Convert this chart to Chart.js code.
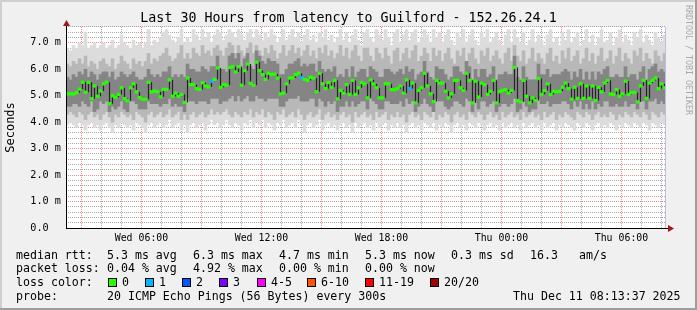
<!DOCTYPE html>
<html>
<head>
<meta charset="utf-8">
<script src="https://cdn.jsdelivr.net/npm/chart.js@4.4.1/dist/chart.umd.min.js"></script>
<style>
html, body { margin: 0; padding: 0; background: #f0f0f0; }
#wrap { position: relative; width: 697px; height: 310px; overflow: hidden; font-family: "DejaVu Sans Mono", monospace; color: #000; }
#chart { position: absolute; left: 0; top: 0; }
.t { position: absolute; font-size: 11.6px; line-height: 14px; white-space: pre; }
.box { position: absolute; top: 278px; width: 7px; height: 7px; border: 1px solid #000; }
#mark { position: absolute; left: 684px; top: 5px; writing-mode: vertical-rl; font-size: 8.3px; color: #a8a8a8; white-space: pre; }
</style>
</head>
<body>
<div id="wrap">
  <canvas id="chart" width="697" height="310"></canvas>
  <div id="mark">RRDTOOL / TOBI OETIKER</div>
  <div id="legend"></div>
</div>
<script>
// 30 hours ending Thu Dec 11 08:13:37 2025, one column = 9 minutes
const hoursShown = 30;
const firstHourAt = 0.773; // Wed 03:00, hours after the left edge
const xTickHours = [3, 9, 15, 21, 27]; // hours after Wed 03:00
const xTickLabels = ['Wed 06:00', 'Wed 12:00', 'Wed 18:00', 'Thu 00:00', 'Thu 06:00'];
const yTickValues = [0, 1, 2, 3, 4, 5, 6, 7];
const yTickLabels = ['0.0  ', '1.0 m', '2.0 m', '3.0 m', '4.0 m', '5.0 m', '6.0 m', '7.0 m'];

// median rtt in ms
const median = [
  5.07, 5.07, 5.07, 5.12, 5.25, 5.51, 5.13, 5.51, 4.89, 5.37,
  4.98, 5.18, 5.45, 5.51, 4.70, 5.00, 4.94, 5.05, 5.30, 4.89,
  4.81, 5.30, 5.45, 5.15, 4.93, 4.87, 4.87, 5.51, 5.15, 5.18,
  5.15, 4.96, 5.24, 5.24, 5.60, 4.98, 5.10, 4.98, 5.05, 4.75,
  5.67, 5.42, 5.42, 5.27, 5.24, 5.49, 5.37, 5.33, 5.55, 5.62,
  6.05, 5.32, 5.42, 5.40, 6.07, 6.10, 5.90, 6.10, 5.40, 5.95,
  6.20, 5.47, 5.40, 6.27, 5.95, 5.80, 5.62, 5.85, 5.80, 5.82,
  5.67, 5.07, 5.10, 5.45, 5.67, 5.67, 5.80, 5.85, 5.68, 5.62,
  5.58, 5.70, 5.67, 5.15, 5.85, 5.45, 5.27, 5.50, 5.32, 5.58,
  4.88, 5.20, 5.10, 5.42, 5.05, 5.58, 5.05, 5.30, 5.50, 5.45,
  4.92, 5.60, 5.45, 5.30, 4.92, 4.92, 5.45, 5.45, 5.23, 5.23,
  5.27, 5.37, 5.10, 5.60, 5.27, 5.48, 4.73, 5.20, 5.30, 5.85,
  5.37, 5.07, 4.78, 5.58, 5.48, 5.48, 5.17, 4.92, 5.07, 5.58,
  5.58, 5.30, 5.20, 5.85, 5.58, 4.73, 5.55, 4.95, 5.48, 5.42,
  5.05, 5.17, 5.58, 4.73, 5.15, 5.20, 5.23, 5.10, 5.20, 6.07,
  4.82, 4.77, 5.58, 4.98, 4.73, 4.92, 4.82, 5.65, 5.05, 5.20,
  5.45, 5.05, 5.17, 5.15, 5.17, 5.32, 5.48, 5.27, 4.87, 5.32,
  4.90, 5.45, 4.90, 5.37, 4.90, 5.37, 4.82, 5.32, 5.15, 5.48,
  5.58, 5.07, 5.05, 5.23, 4.98, 5.07, 5.55, 5.05, 5.12, 5.12,
  4.77, 5.37, 5.58, 4.90, 5.48, 5.58, 5.67, 5.27, 5.45, 5.30
];
// columns where one of 20 pings was lost
const lossBins = [48, 78, 114];

// smoke: spread of the 20 pings, outer / middle / inner
const smokeOuterHi = [
  6.8, 6.7, 6.9, 6.8, 7.0, 6.9, 7.4, 6.8, 6.9, 7.0,
  6.8, 6.9, 7.0, 6.8, 6.9, 7.1, 6.8, 6.9, 7.3, 7.0,
  6.9, 6.8, 7.1, 6.9, 7.0, 6.8, 7.0, 7.5, 6.9, 7.1,
  7.0, 7.2, 7.4, 7.5, 7.3, 7.1, 7.0, 7.2, 7.5, 7.0,
  7.2, 7.0, 7.5, 7.3, 7.1, 7.5, 7.2, 7.4, 7.0, 7.3,
  7.5, 7.4, 7.1, 7.3, 7.5, 7.4, 7.2, 7.5, 7.3, 7.1,
  7.4, 7.5, 7.2, 7.5, 7.3, 7.1, 7.4, 7.2, 7.5, 7.3,
  7.0, 7.2, 7.5, 7.1, 7.3, 7.5, 7.2, 7.4, 7.0, 7.3,
  7.5, 7.1, 7.3, 7.0, 7.4, 7.2, 7.5, 7.1, 7.3, 7.0,
  7.2, 7.5, 7.1, 7.4, 7.0, 7.3, 7.5, 7.1, 6.9, 7.4,
  7.5, 7.2, 7.0, 7.5, 7.3, 7.1, 7.5, 7.2, 6.9, 7.4,
  7.5, 7.0, 7.3, 7.5, 7.1, 7.4, 7.5, 7.0, 7.2, 7.5,
  7.3, 7.0, 7.5, 7.2, 7.4, 7.0, 7.3, 7.5, 7.1, 6.9,
  7.4, 7.2, 7.5, 7.0, 7.3, 7.5, 7.1, 6.9, 7.4, 7.2,
  7.5, 7.0, 7.2, 7.4, 7.1, 6.9, 7.3, 7.5, 7.0, 7.5,
  7.2, 7.0, 7.4, 6.9, 7.1, 7.5, 7.0, 7.3, 7.1, 6.9,
  7.3, 7.5, 7.0, 7.2, 6.9, 7.4, 7.1, 7.5, 7.0, 7.2,
  7.4, 6.9, 7.1, 7.5, 7.0, 7.3, 6.9, 7.2, 7.5, 7.0,
  7.1, 7.4, 6.9, 7.2, 7.5, 7.0, 7.3, 7.1, 6.9, 7.4,
  7.2, 7.5, 7.0, 7.3, 7.1, 6.9, 7.4, 7.2, 7.0, 7.3
];
const smokeOuterLo = [
  3.9, 4.0, 3.9, 3.8, 4.0, 3.9, 3.7, 3.9, 4.0, 3.8,
  3.9, 3.7, 3.9, 4.0, 3.8, 3.6, 3.9, 3.8, 4.0, 3.9,
  3.8, 3.9, 3.7, 4.0, 3.9, 3.8, 3.6, 3.9, 4.0, 3.8,
  3.9, 4.0, 3.8, 3.9, 4.1, 3.8, 3.9, 4.0, 3.7, 3.9,
  3.6, 3.9, 4.0, 3.8, 3.9, 4.0, 3.7, 3.9, 4.1, 3.9,
  4.0, 3.8, 3.9, 4.1, 3.9, 3.8, 4.0, 3.9, 3.7, 4.0,
  3.9, 4.1, 3.8, 4.0, 3.9, 4.1, 3.8, 4.0, 3.9, 3.7,
  4.0, 3.9, 4.1, 3.8, 3.9, 4.0, 3.8, 4.1, 3.9, 3.6,
  3.9, 4.0, 3.8, 3.9, 4.1, 3.7, 3.9, 4.0, 3.8, 3.9,
  3.7, 3.9, 4.0, 3.8, 3.9, 3.6, 4.0, 3.8, 3.9, 4.0,
  3.8, 3.9, 3.7, 4.0, 3.8, 3.9, 4.0, 3.7, 3.9, 3.8,
  4.0, 3.8, 3.9, 3.6, 3.9, 4.0, 3.8, 3.9, 3.7, 4.0,
  3.9, 3.8, 4.0, 3.7, 3.9, 3.8, 4.0, 3.9, 3.6, 3.9,
  4.0, 3.8, 3.9, 3.7, 4.0, 3.9, 3.8, 4.0, 3.9, 3.7,
  3.9, 4.0, 3.8, 3.9, 3.7, 4.0, 3.8, 3.9, 4.0, 3.8,
  3.9, 3.7, 4.0, 3.8, 3.9, 4.0, 3.8, 3.9, 3.7, 4.0,
  3.8, 3.9, 4.0, 3.7, 3.9, 3.8, 4.0, 3.9, 3.8, 3.7,
  4.0, 3.9, 3.8, 4.0, 3.9, 3.7, 3.9, 4.0, 3.8, 3.9,
  3.8, 4.0, 3.9, 3.7, 3.9, 3.8, 4.0, 3.9, 3.8, 4.0,
  3.9, 3.8, 4.0, 3.9, 3.7, 4.0, 3.9, 3.8, 4.0, 3.9
];
const smokeMidHi = [
  6.2, 6.1, 6.3, 6.2, 6.4, 6.2, 6.5, 6.1, 6.3, 6.2,
  6.0, 6.3, 6.4, 6.2, 6.1, 6.4, 6.0, 6.2, 6.5, 6.3,
  6.2, 6.0, 6.4, 6.2, 6.3, 6.1, 6.3, 6.6, 6.2, 6.4,
  6.3, 6.5, 6.6, 6.8, 6.5, 6.3, 6.4, 6.6, 6.9, 6.4,
  6.6, 6.4, 6.8, 6.6, 6.5, 6.9, 6.6, 6.7, 6.5, 6.8,
  6.9, 6.7, 6.5, 6.8, 7.0, 6.9, 6.6, 6.9, 6.7, 6.5,
  6.8, 7.0, 6.6, 6.9, 6.7, 6.5, 6.8, 6.6, 6.9, 6.7,
  6.4, 6.6, 6.9, 6.5, 6.7, 6.9, 6.6, 6.8, 6.5, 6.7,
  6.9, 6.5, 6.7, 6.4, 6.8, 6.6, 6.9, 6.5, 6.7, 6.4,
  6.6, 6.9, 6.5, 6.8, 6.4, 6.7, 6.9, 6.5, 6.3, 6.8,
  6.8, 6.5, 6.3, 6.8, 6.6, 6.4, 6.8, 6.5, 6.2, 6.7,
  6.8, 6.3, 6.6, 6.8, 6.4, 6.7, 6.9, 6.3, 6.5, 6.8,
  6.6, 6.3, 6.8, 6.5, 6.7, 6.3, 6.6, 6.8, 6.4, 6.2,
  6.7, 6.5, 6.8, 6.3, 6.6, 6.8, 6.4, 6.2, 6.7, 6.5,
  6.8, 6.3, 6.5, 6.7, 6.4, 6.2, 6.6, 6.8, 6.3, 6.9,
  6.5, 6.3, 6.7, 6.2, 6.4, 6.8, 6.3, 6.6, 6.4, 6.2,
  6.6, 6.8, 6.3, 6.5, 6.2, 6.7, 6.4, 6.8, 6.3, 6.5,
  6.7, 6.2, 6.4, 6.8, 6.3, 6.6, 6.2, 6.5, 6.8, 6.3,
  6.4, 6.7, 6.2, 6.5, 6.8, 6.3, 6.6, 6.4, 6.2, 6.7,
  6.5, 6.8, 6.3, 6.6, 6.4, 6.2, 6.7, 6.5, 6.3, 6.6
];
const smokeMidLo = [
  4.3, 4.4, 4.3, 4.2, 4.4, 4.3, 4.1, 4.3, 4.4, 4.2,
  4.3, 4.1, 4.3, 4.4, 4.2, 4.0, 4.3, 4.2, 4.4, 4.3,
  4.2, 4.3, 4.1, 4.4, 4.3, 4.2, 4.0, 4.3, 4.4, 4.2,
  4.3, 4.4, 4.2, 4.3, 4.5, 4.2, 4.3, 4.4, 4.1, 4.3,
  4.1, 4.3, 4.4, 4.2, 4.3, 4.4, 4.2, 4.3, 4.5, 4.3,
  4.4, 4.3, 4.4, 4.5, 4.3, 4.2, 4.4, 4.3, 4.2, 4.4,
  4.3, 4.5, 4.2, 4.4, 4.3, 4.5, 4.2, 4.4, 4.3, 4.1,
  4.4, 4.3, 4.5, 4.2, 4.3, 4.4, 4.2, 4.5, 4.3, 4.1,
  4.3, 4.4, 4.2, 4.3, 4.5, 4.1, 4.3, 4.4, 4.2, 4.3,
  4.1, 4.3, 4.4, 4.2, 4.3, 4.0, 4.4, 4.2, 4.3, 4.4,
  4.2, 4.3, 4.1, 4.4, 4.2, 4.3, 4.4, 4.1, 4.3, 4.2,
  4.4, 4.2, 4.3, 4.0, 4.3, 4.4, 4.2, 4.3, 4.1, 4.4,
  4.3, 4.2, 4.4, 4.1, 4.3, 4.2, 4.4, 4.3, 4.0, 4.3,
  4.4, 4.2, 4.3, 4.1, 4.4, 4.3, 4.2, 4.4, 4.3, 4.1,
  4.3, 4.4, 4.2, 4.3, 4.1, 4.4, 4.2, 4.3, 4.4, 4.2,
  4.3, 4.1, 4.4, 4.2, 4.3, 4.4, 4.2, 4.3, 4.1, 4.4,
  4.2, 4.3, 4.4, 4.1, 4.3, 4.2, 4.4, 4.3, 4.2, 4.1,
  4.4, 4.3, 4.2, 4.4, 4.3, 4.1, 4.3, 4.4, 4.2, 4.3,
  4.2, 4.4, 4.3, 4.1, 4.3, 4.2, 4.4, 4.3, 4.2, 4.4,
  4.3, 4.2, 4.4, 4.3, 4.1, 4.4, 4.3, 4.2, 4.4, 4.3
];
const smokeInnerHi = [
  5.7, 5.6, 5.8, 5.7, 5.9, 5.8, 6.0, 5.7, 5.9, 5.8,
  5.6, 5.8, 5.9, 5.9, 5.7, 5.9, 5.6, 5.7, 5.9, 5.8,
  5.7, 5.8, 5.9, 5.7, 5.6, 5.6, 5.7, 6.0, 5.8, 5.7,
  5.8, 5.7, 5.9, 5.9, 6.1, 5.7, 5.8, 5.7, 5.8, 5.7,
  6.2, 6.0, 6.0, 5.9, 5.9, 6.1, 6.0, 5.9, 6.1, 6.1,
  6.5, 6.0, 6.0, 5.9, 6.5, 6.6, 6.4, 6.6, 6.0, 6.4,
  6.6, 6.1, 6.0, 6.7, 6.5, 6.3, 6.2, 6.4, 6.3, 6.3,
  6.2, 5.8, 5.8, 6.0, 6.2, 6.2, 6.3, 6.4, 6.1, 6.2,
  6.1, 6.2, 6.2, 5.9, 6.3, 6.0, 5.9, 6.0, 5.9, 6.1,
  5.7, 5.8, 5.7, 6.0, 5.7, 6.1, 5.7, 5.9, 6.0, 6.0,
  5.7, 6.1, 6.0, 5.9, 5.7, 5.7, 6.0, 6.0, 5.9, 5.8,
  5.9, 6.0, 5.8, 6.1, 5.9, 6.0, 5.6, 5.8, 5.9, 6.3,
  5.9, 5.7, 5.6, 6.1, 6.0, 6.0, 5.8, 5.6, 5.7, 6.1,
  6.1, 5.9, 5.8, 6.3, 6.1, 5.6, 6.0, 5.7, 6.0, 6.0,
  5.7, 5.8, 6.1, 5.6, 5.8, 5.8, 5.9, 5.8, 5.8, 6.5,
  5.7, 5.6, 6.1, 5.7, 5.6, 5.6, 5.6, 6.2, 5.8, 5.8,
  6.0, 5.7, 5.8, 5.8, 5.8, 5.9, 6.0, 5.9, 5.6, 5.9,
  5.7, 6.0, 5.6, 5.9, 5.6, 5.9, 5.6, 5.9, 5.8, 6.0,
  6.1, 5.7, 5.7, 5.8, 5.7, 5.7, 6.1, 5.7, 5.8, 5.8,
  5.6, 5.9, 6.1, 5.6, 6.0, 6.1, 6.2, 5.9, 6.0, 5.9
];
const smokeInnerLo = [
  4.6, 4.6, 4.7, 4.7, 4.6, 4.8, 4.7, 4.6, 4.8, 4.4,
  4.5, 4.8, 4.7, 4.8, 4.4, 4.6, 4.5, 4.6, 4.8, 4.5,
  4.4, 4.8, 4.8, 4.7, 4.5, 4.5, 4.5, 4.8, 4.7, 4.7,
  4.7, 4.6, 4.7, 4.7, 4.9, 4.6, 4.7, 4.6, 4.6, 4.4,
  4.9, 4.8, 4.8, 4.7, 4.8, 4.8, 4.8, 4.7, 4.9, 4.9,
  4.9, 4.7, 4.8, 4.8, 4.9, 5.0, 4.8, 5.0, 4.8, 4.9,
  5.0, 4.8, 4.8, 5.0, 4.9, 4.9, 4.8, 4.9, 4.9, 4.9,
  4.9, 4.6, 4.6, 4.8, 4.9, 4.9, 4.9, 5.0, 4.8, 4.8,
  4.8, 4.9, 4.9, 4.6, 4.9, 4.8, 4.6, 4.8, 4.7, 4.8,
  4.4, 4.6, 4.6, 4.8, 4.6, 4.8, 4.6, 4.7, 4.8, 4.8,
  4.5, 4.9, 4.8, 4.7, 4.5, 4.5, 4.8, 4.8, 4.7, 4.7,
  4.7, 4.8, 4.6, 4.9, 4.7, 4.8, 4.4, 4.6, 4.7, 4.9,
  4.7, 4.6, 4.4, 4.9, 4.8, 4.8, 4.6, 4.5, 4.6, 4.8,
  4.8, 4.7, 4.6, 4.9, 4.8, 4.4, 4.8, 4.5, 4.8, 4.8,
  4.6, 4.7, 4.8, 4.4, 4.6, 4.7, 4.7, 4.6, 4.7, 4.9,
  4.4, 4.5, 4.8, 4.6, 4.4, 4.5, 4.5, 4.9, 4.7, 4.7,
  4.8, 4.6, 4.7, 4.7, 4.7, 4.8, 4.8, 4.7, 4.5, 4.8,
  4.6, 4.8, 4.5, 4.7, 4.5, 4.8, 4.5, 4.7, 4.6, 4.8,
  4.8, 4.6, 4.6, 4.7, 4.6, 4.6, 4.8, 4.6, 4.7, 4.7,
  4.5, 4.8, 4.8, 4.5, 4.8, 4.8, 4.9, 4.7, 4.8, 4.7
];

const lossColors = ['#26ff00', '#00b8ff', '#0059ff', '#7e00ff', '#ff00ff', '#ff5500', '#ff0000', '#a10000'];
const lossLabels = ['0', '1', '2', '3', '4-5', '6-10', '11-19', '20/20'];
const lossBoxX = [108, 145, 182, 219, 257, 307, 365, 430];

// legend rows: [text, left]
const legendRows = [
  [['median rtt:', 16], ['5.3 ms avg', 107], ['6.3 ms max', 193], ['4.7 ms min', 279], ['5.3 ms now', 365], ['0.3 ms sd', 451], ['16.3', 530], ['am/s', 579]],
  [['packet loss:', 16], ['0.04 % avg', 107], ['4.92 % max', 193], ['0.00 % min', 279], ['0.00 % now', 365]],
  [['loss color:', 16]],
  [['probe:', 16], ['20 ICMP Echo Pings (56 Bytes) every 300s', 107], ['Thu Dec 11 08:13:37 2025', 513]]
];
const rowTop = [248, 261, 275, 289];

// ---- legend block (html text) ----
const legendEl = document.getElementById('legend');
legendRows.forEach((row, r) => {
  row.forEach(([txt, x]) => {
    legendEl.insertAdjacentHTML('beforeend', `<div class="t" style="left:${x}px;top:${rowTop[r]}px">${txt}</div>`);
  });
});
lossLabels.forEach((lab, i) => {
  legendEl.insertAdjacentHTML('beforeend',
    `<div class="box" style="left:${lossBoxX[i]}px;background:${lossColors[i]}"></div>` +
    `<div class="t" style="left:${lossBoxX[i] + 14}px;top:${rowTop[2]}px">${lab}</div>`);
});

// ---- chart ----
const bins = median.map((m, i) => i);
const pairs = (lo, hi) => lo.map((v, i) => [v, hi[i]]);
const medianMarks = median.map(m => [m - 0.05, m + 0.05]);
const medianColors = median.map((m, i) => lossBins.includes(i) ? lossColors[1] : lossColors[0]);
const medianSteps = median.map((m, i) => {
  const prev = i ? median[i - 1] : m;
  return [Math.min(prev, m), Math.max(prev, m)];
});

const hourTicks = [];
for (let h = firstHourAt; h < hoursShown; h += 1) hourTicks.push({ value: h });
const yGrid = [];
for (let k = 0; k <= 38; k++) yGrid.push({ value: k / 5 });

const gridGray = 'rgba(110,110,110,0.6)';
const gridRed = 'rgba(222,48,48,0.55)';

const barBase = { type: 'bar', grouped: false, barPercentage: 1, categoryPercentage: 1, borderWidth: 0, xAxisID: 'x', yAxisID: 'y' };

const frame = {
  id: 'frame',
  beforeDraw(chart) {
    const c = chart.ctx, a = chart.chartArea;
    c.save();
    c.fillStyle = '#f0f0f0';
    c.fillRect(0, 0, 697, 310);
    c.fillStyle = '#cfcfcf';
    c.fillRect(0, 0, 697, 2);
    c.fillRect(0, 0, 2, 310);
    c.fillStyle = '#9e9e9e';
    c.fillRect(0, 308, 697, 2);
    c.fillRect(695, 0, 2, 310);
    c.fillStyle = '#ffffff';
    c.fillRect(a.left, a.top, a.right - a.left, a.bottom - a.top);
    c.restore();
  },
  afterDraw(chart) {
    const c = chart.ctx, a = chart.chartArea;
    c.save();
    // now-line
    c.strokeStyle = '#c4b4f0';
    c.beginPath();
    c.moveTo(a.right - 0.5, a.top);
    c.lineTo(a.right - 0.5, a.bottom);
    c.stroke();
    // axes
    c.strokeStyle = '#000';
    c.lineWidth = 1;
    c.beginPath();
    c.moveTo(a.left + 0.5, a.bottom);
    c.lineTo(a.left + 0.5, a.top - 2);
    c.moveTo(a.left, a.bottom + 0.5);
    c.lineTo(a.right + 2, a.bottom + 0.5);
    c.stroke();
    c.fillStyle = '#a01818';
    c.beginPath();
    c.moveTo(a.left - 3, a.top - 1);
    c.lineTo(a.left + 4, a.top - 1);
    c.lineTo(a.left + 0.5, a.top - 7);
    c.closePath();
    c.fill();
    c.beginPath();
    c.moveTo(a.right + 2, a.bottom - 3);
    c.lineTo(a.right + 2, a.bottom + 4);
    c.lineTo(a.right + 8, a.bottom + 0.5);
    c.closePath();
    c.fill();
    c.restore();
  }
};

Chart.defaults.font.family = 'DejaVu Sans Mono';
Chart.defaults.color = '#000';

new Chart(document.getElementById('chart'), {
  type: 'bar',
  data: {
    labels: bins,
    datasets: [
      Object.assign({}, barBase, { label: 'median', data: medianMarks, backgroundColor: medianColors, order: 1 }),
      Object.assign({}, barBase, { label: 'core', data: medianSteps, backgroundColor: '#262626', order: 2, barPercentage: 0.4 }),
      Object.assign({}, barBase, { label: 'inner', data: pairs(smokeInnerLo, smokeInnerHi), backgroundColor: '#858585', order: 3 }),
      Object.assign({}, barBase, { label: 'mid', data: pairs(smokeMidLo, smokeMidHi), backgroundColor: '#b8b8b8', order: 4 }),
      Object.assign({}, barBase, { label: 'outer', data: pairs(smokeOuterLo, smokeOuterHi), backgroundColor: '#dcdcdc', order: 5 })
    ]
  },
  options: {
    responsive: false,
    animation: false,
    devicePixelRatio: 1,
    layout: { padding: { left: 0, right: 0, top: 0, bottom: 62 } },
    plugins: {
      legend: { display: false },
      tooltip: { enabled: false },
      title: {
        display: true,
        text: 'Last 30 Hours from latency to Guilford - 152.26.24.1',
        color: '#000',
        font: { family: 'DejaVu Sans Mono', size: 13.3, weight: 'normal', lineHeight: 1.2 },
        padding: { top: 11, bottom: 0 }
      }
    },
    scales: {
      x: { type: 'category', display: false, offset: true },
      xt: {
        type: 'linear', position: 'bottom', min: 0, max: hoursShown, z: 1, offset: false,
        afterBuildTicks: s => { s.ticks = hourTicks.slice(); },
        afterFit: s => { s.height = 20; },
        grid: {
          offset: false,
          drawTicks: false,
          color: ctx => {
            const h = Math.round((ctx.tick ? ctx.tick.value : 0) - firstHourAt) + 3;
            return h % 3 === 0 ? gridRed : gridGray;
          }
        },
        border: { display: false, dash: [1, 1] },
        ticks: {
          autoSkip: false, maxRotation: 0, minRotation: 0, padding: 4,
          font: { family: 'DejaVu Sans Mono', size: 9.9 }, color: '#000',
          callback: (v, i) => {
            const k = xTickHours.indexOf(i);
            return k >= 0 ? xTickLabels[k] : '';
          }
        }
      },
      y: {
        type: 'linear', position: 'left', min: 0, max: 7.6, z: 1,
        afterBuildTicks: s => { s.ticks = yGrid.slice(); },
        afterFit: s => { s.width = 66; },
        grid: {
          drawTicks: false,
          color: ctx => {
            const v = ctx.tick ? ctx.tick.value : 0;
            return Math.abs(v - Math.round(v)) < 1e-6 ? gridRed : gridGray;
          }
        },
        border: { display: false, dash: [1, 1] },
        ticks: {
          autoSkip: false, padding: 5,
          font: { family: 'DejaVu Sans Mono', size: 10.2 }, color: '#000',
          callback: v => {
            const k = yTickValues.findIndex(t => Math.abs(t - v) < 1e-6);
            return k >= 0 ? yTickLabels[k] : '';
          }
        },
        title: {
          display: true, text: 'Seconds', color: '#000',
          font: { family: 'DejaVu Sans Mono', size: 12 },
          padding: { top: 4, bottom: 0 }
        }
      },
      y2: {
        type: 'linear', position: 'right', display: true,
        grid: { display: false }, ticks: { display: false }, border: { display: false },
        afterFit: s => { s.width = 31; }
      }
    }
  },
  plugins: [frame]
});
</script>
</body>
</html>
